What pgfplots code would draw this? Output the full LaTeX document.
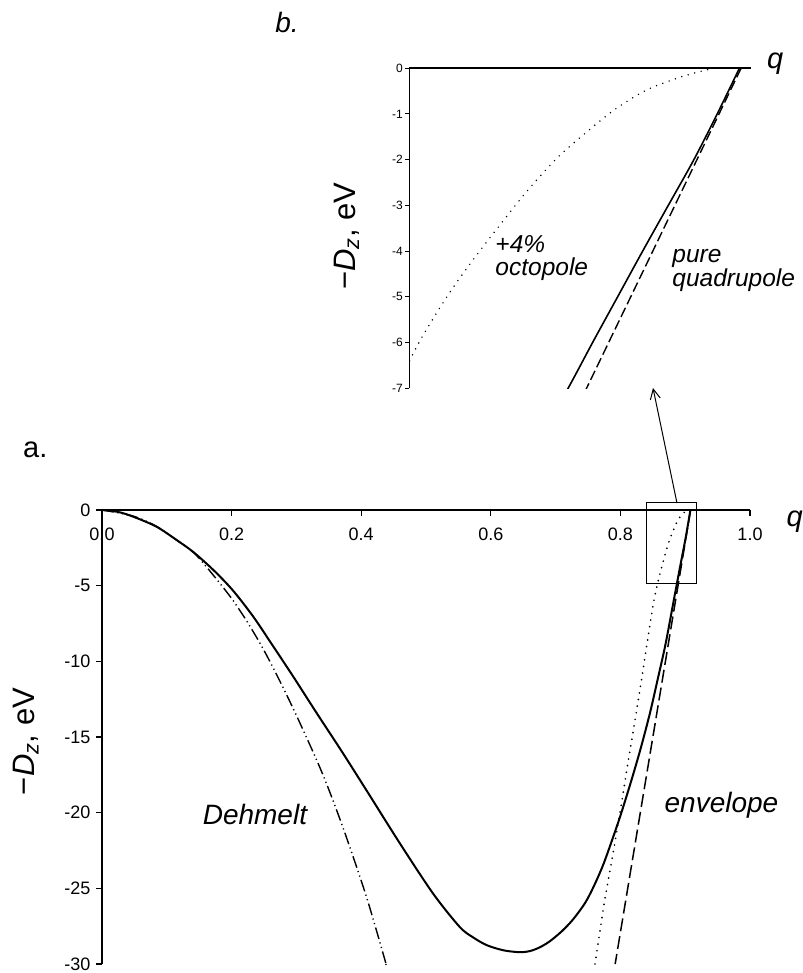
\documentclass[border=0pt]{standalone}
\usepackage{fontspec}
\setmainfont{Liberation Sans}
\usepackage{pgfplots}
\pgfplotsset{compat=1.18}
\usepackage{pgfplotstable}
\usetikzlibrary{arrows.meta}

\pgfplotstableread{
q D
0.000 0.00
0.025 -0.13
0.048 -0.44
0.084 -1.10
0.115 -1.98
0.141 -2.78
0.172 -3.97
0.2015 -5.29
0.2335 -7.05
0.2645 -9.03
0.295 -11.00
0.331 -13.40
0.370 -15.95
0.410 -18.65
0.460 -22.05
0.511 -25.35
0.552 -27.55
0.573 -28.25
0.594 -28.76
0.620 -29.10
0.645 -29.22
0.660 -29.15
0.675 -28.91
0.691 -28.50
0.710 -27.82
0.727 -27.05
0.745 -26.00
0.758 -24.95
0.772 -23.60
0.784 -22.20
0.800 -20.20
0.816 -18.00
0.831 -15.80
0.8457 -13.40
0.858 -11.10
0.869 -9.00
0.8779 -7.00
0.8822 -6.00
0.8866 -5.00
0.8910 -4.00
0.8955 -3.00
0.9000 -2.00
0.9041 -1.00
0.9080 0.00
}\solid

\pgfplotstableread{
q D
0.000 0.00
0.048 -0.40
0.084 -1.08
0.115 -1.98
0.141 -2.80
0.160 -3.70
0.182 -4.85
0.2026 -6.00
0.225 -7.45
0.249 -9.20
0.275 -11.35
0.303 -13.85
0.340 -17.40
0.372 -21.00
0.408 -25.55
0.4367 -29.75
0.438 -30.00
}\dehmelt

\pgfplotstableread{
q D
0.9083 0.00
0.7919 -30.00
}\envelope

\pgfplotstableread{
q D
0.7608 -30.00
0.775 -26.00
0.789 -22.60
0.802 -19.30
0.812 -16.60
0.8225 -13.90
0.833 -11.10
0.843 -8.30
0.8504 -6.31
0.8542 -5.47
0.8580 -4.74
0.8618 -4.09
0.8659 -3.43
0.8706 -2.70
0.8759 -1.97
0.8812 -1.39
0.8864 -0.875
0.8917 -0.475
0.8970 -0.22
0.9011 -0.07
0.9035 0.00
}\octopole

\begin{document}
\begin{tikzpicture}
\useasboundingbox (0pt,0pt) rectangle (802pt,973pt);
% ---------------- main panel (a) ----------------
\begin{axis}[
  at={(102pt,9pt)}, anchor=south west,
  scale only axis, width=648pt, height=454pt,
  xmin=0, xmax=1, ymin=-30, ymax=0,
  axis x line*=top, axis y line*=left,
  xtick={0,0.2,0.4,0.6,0.8,1.0},
  xticklabels={0.0,0.2,0.4,0.6,0.8,1.0},
  ytick={-30,-25,-20,-15,-10,-5,0},
  yticklabels={-30,-25,-20,-15,-10,-5,0},
  xtick align=inside, ytick align=outside,
  major tick length=6pt,
  xticklabel style={anchor=north, yshift=-14pt, font=\fontsize{18}{20}\selectfont},
  yticklabel style={font=\fontsize{18}{20}\selectfont, xshift=-2pt},
  axis line style={line width=1.1pt},
  tick style={line width=1.1pt, black},
  clip=false,
]
\addplot[black, line width=2pt, smooth, tension=0.5] table[x=q,y=D]{\solid};
\addplot[black, line width=1.4pt, smooth, tension=0.5, dash pattern=on 12pt off 3.5pt on 1.2pt off 3.5pt on 1.2pt off 3.5pt] table[x=q,y=D]{\dehmelt};
\addplot[black, line width=1.5pt, dash pattern=on 13pt off 5pt] table[x=q,y=D]{\envelope};
\addplot[black, line width=1.9pt, smooth, tension=0.5, line cap=round, dash pattern=on 0pt off 6.7pt] table[x=q,y=D]{\octopole};
\draw[line width=1pt] (axis cs:0.8406,0.48) rectangle (axis cs:0.9177,-4.84);
\draw[line width=1pt,-{Straight Barb[length=10pt,width=10pt]}] (axis cs:0.8873,0.46) -- (axis cs:0.8503,8.06);
\node[anchor=base west, inner sep=0pt, font=\fontsize{29}{32}\selectfont] at (axis cs:-0.122,3.5) {a.};
\node[anchor=base, inner sep=0pt, font=\fontsize{28}{30}\selectfont\itshape] at (axis cs:0.236,-20.8) {Dehmelt};
\node[anchor=base, inner sep=0pt, font=\fontsize{28}{30}\selectfont\itshape] at (axis cs:0.956,-20.0) {envelope};
\node[anchor=base, inner sep=0pt, font=\fontsize{29}{30}\selectfont\itshape] at (axis cs:1.069,-1.12) {q};
\node[rotate=90, anchor=base, inner sep=0pt, font=\fontsize{31}{34}\selectfont] at (axis cs:-0.1034,-15.3) {−\textit{D}\textsubscript{\textit{z}}, eV};
\end{axis}
% ---------------- inset panel (b) ----------------
\begin{axis}[
  at={(409.3pt,584.7pt)}, anchor=south west,
  scale only axis, width=341.4pt, height=320pt,
  xmin=0.85, xmax=0.91, ymin=-7, ymax=0,
  axis x line*=top, axis y line*=left,
  xtick={0.85,0.86,0.87,0.88,0.89,0.90,0.91},
  xticklabels={0.85,0.86,0.87,0.88,0.89,0.90,0.91},
  ytick={-7,-6,-5,-4,-3,-2,-1,0},
  yticklabels={-7,-6,-5,-4,-3,-2,-1,0},
  xmajorticks=false,
  ytick align=outside,
  major tick length=4pt,
  xticklabel style={anchor=north, yshift=-5pt, font=\fontsize{12}{13}\selectfont},
  yticklabel style={font=\fontsize{12}{13}\selectfont, xshift=1pt},
  x axis line style={line width=2.4pt},
  y axis line style={line width=1pt},
  tick style={line width=1pt, black},
  clip mode=individual,
]
\addplot[black, line width=1.6pt, smooth, tension=0.5] table[x=q,y=D]{\solid};
\addplot[black, line width=1.4pt, dash pattern=on 10pt off 4pt] table[x=q,y=D]{\envelope};
\addplot[black, line width=1.6pt, smooth, tension=0.5, line cap=round, dash pattern=on 0pt off 6.7pt] table[x=q,y=D]{\octopole};
\node[anchor=base west, inner sep=0pt, font=\fontsize{28}{30}\selectfont\itshape] at (axis cs:0.8264,0.772) {b.};
\node[anchor=base, inner sep=0pt, font=\fontsize{29}{30}\selectfont\itshape] at (axis cs:0.9143,0.0) {q};
\node[anchor=north west, inner sep=0pt, align=left, font=\fontsize{24.5}{23}\selectfont\itshape] at (axis cs:0.8651,-3.66) {+4\%\\octopole};
\node[anchor=north west, inner sep=0pt, align=left, font=\fontsize{24.5}{22}\selectfont\itshape] at (axis cs:0.8962,-3.96) {pure\\quadrupole};
\node[rotate=90, anchor=base, inner sep=0pt, font=\fontsize{31}{34}\selectfont] at (axis cs:0.8405,-3.67) {−\textit{D}\textsubscript{\textit{z}}, eV};
\end{axis}
\end{tikzpicture}
\end{document}
